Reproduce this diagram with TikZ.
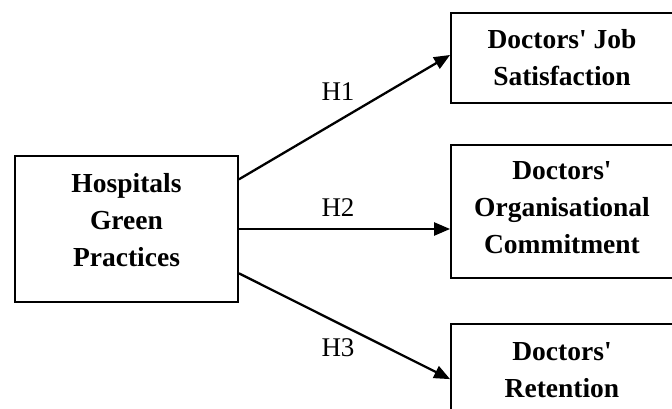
\documentclass[tikz,border=0pt]{standalone}
\usepackage{fontspec}
\setmainfont{Liberation Serif}
\usetikzlibrary{arrows.meta,calc}
\begin{document}
\begin{tikzpicture}[x=1pt,y=-1pt,
  box/.style={draw,line width=1.8pt,rectangle,inner sep=0pt},
  boxtext/.style={align=center,font=\fontsize{27.5}{37}\selectfont\bfseries,inner sep=0pt},
  hyp/.style={font=\fontsize{27}{30}\selectfont,inner sep=0pt},
  conn/.style={line width=2.3pt,-{Triangle[length=16pt,width=13pt]}}]
\useasboundingbox (0,0) rectangle (672,409);
\clip (0,0) rectangle (672,409);
\node[box,minimum width=223pt,minimum height=146pt] (hgp) at (126.5,229) {};
\node[boxtext] (hgpt) at (126.5,220) {Hospitals\\Green\\Practices};
\node[box,minimum width=222pt,minimum height=90pt] (js) at (562,58) {};
\node[boxtext] (jst) at (562,58) {Doctors\textquotesingle{} Job\\Satisfaction};
\node[box,minimum width=222pt,minimum height=133pt] (oc) at (562,211.5) {};
\node[boxtext] (oct) at (562,208) {Doctors\textquotesingle\\Organisational\\Commitment};
\node[box,minimum width=222pt,minimum height=96pt] (ret) at (562,372) {};
\node[boxtext] (rett) at (562,370) {Doctors\textquotesingle\\Retention};
\coordinate (s1) at ($(hgp.north east)!0.164!(hgp.south east)$);
\coordinate (s3) at ($(hgp.north east)!0.80!(hgp.south east)$);
\coordinate (e1) at ($(js.north west)!0.467!(js.south west)$);
\coordinate (e3) at ($(ret.north west)!0.573!(ret.south west)$);
\draw[conn] (s1) -- (e1);
\draw[conn] (hgp.east) -- (hgp.east -| oc.west);
\draw[conn] (s3) -- (e3);
\node[hyp] (h1) at (338,92) {H1};
\node[hyp] (h2) at (338,208) {H2};
\node[hyp] (h3) at (338,348) {H3};
\end{tikzpicture}
\end{document}
